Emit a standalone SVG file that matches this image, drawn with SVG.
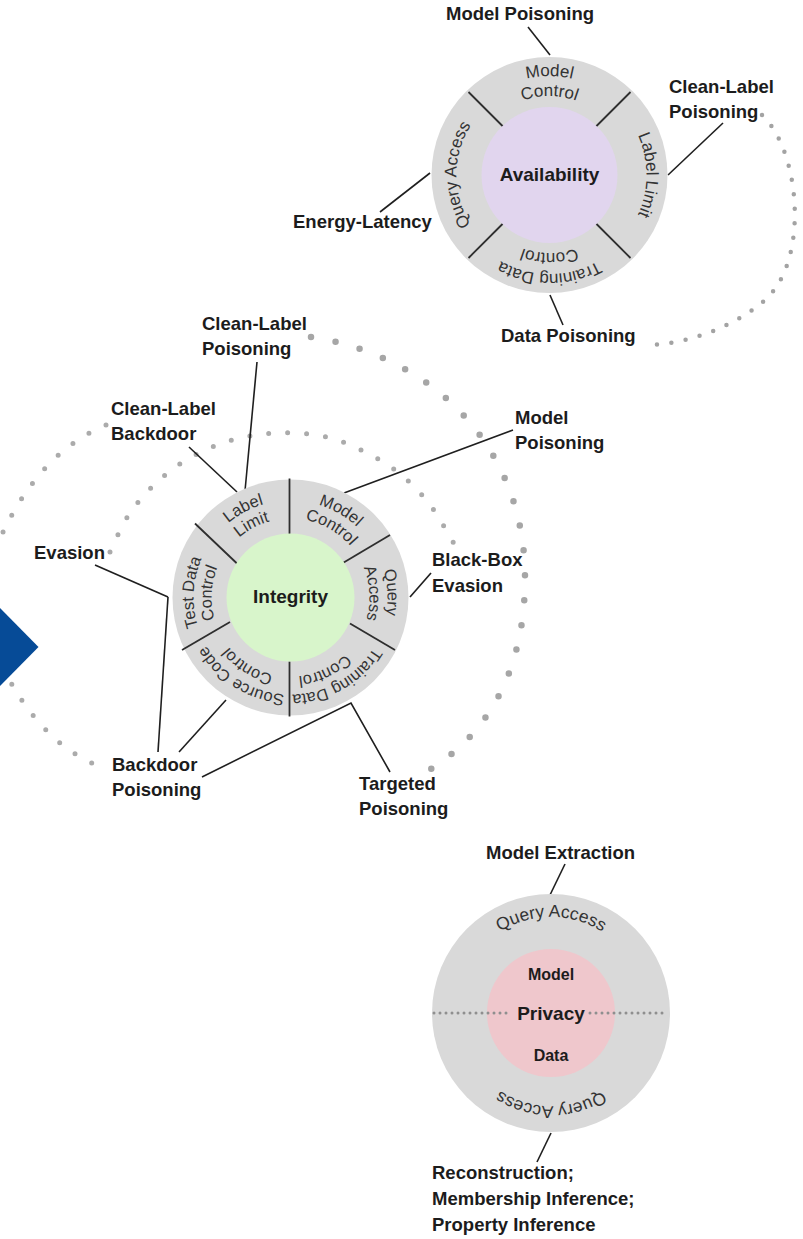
<svg xmlns="http://www.w3.org/2000/svg" xmlns:xlink="http://www.w3.org/1999/xlink" width="803" height="1239" viewBox="0 0 803 1239">
<style>
.lbl{font-family:"Liberation Sans",Arial,sans-serif;font-weight:bold;font-size:18.5px;fill:#1c1c1c}
.ctr{font-family:"Liberation Sans",Arial,sans-serif;font-weight:bold;font-size:19px;fill:#1c1c1c;text-anchor:middle}
.sub{font-size:16px}
.rt{font-family:"Liberation Sans",Arial,sans-serif;font-size:16.5px;fill:#333;text-anchor:middle}
.rtA{font-size:17px}
.rtP{font-size:17.5px}
.ring{fill:#d9d9d9}
.div{stroke:#2e2e2e;stroke-width:1.8;fill:none}
.conn{stroke:#1f1f1f;stroke-width:1.6;fill:none}
.dotL{fill:none;stroke:#a6a6a6;stroke-linecap:round;stroke-width:6.5;stroke-dasharray:0 25}
.dotM{fill:none;stroke:#ababab;stroke-linecap:round;stroke-width:5;stroke-dasharray:0 19}
.dotS{fill:none;stroke:#a3a3a3;stroke-linecap:round;stroke-width:4.5;stroke-dasharray:0 14.5}
.dotP{fill:none;stroke:#8f8f8f;stroke-linecap:round;stroke-width:3;stroke-dasharray:0 6}
</style>
<defs>
<path id="c99" d="M0,99 A99,99 0 1 1 0,-99 A99,99 0 1 1 0,99"/>
<path id="c97" d="M0,97 A97,97 0 1 1 0,-97 A97,97 0 1 1 0,97"/>
<path id="c96" d="M0,96 A96,96 0 1 1 0,-96 A96,96 0 1 1 0,96"/>
<path id="c93" d="M0,93 A93,93 0 1 1 0,-93 A93,93 0 1 1 0,93"/>
<path id="c79" d="M0,79 A79,79 0 1 1 0,-79 A79,79 0 1 1 0,79"/>
<path id="c78" d="M0,78 A78,78 0 1 1 0,-78 A78,78 0 1 1 0,78"/>
</defs>
<rect width="803" height="1239" fill="#ffffff"/>

<g id="dotted-arcs">
<path class="dotS" d="M762,115 C800,150 810,260 765,300 C738,324 690,345 645,345"/>
<path class="dotL" d="M311,337 C430,355 525,445 525,578 C525,680 480,740 426,772"/>
<path class="dotM" d="M106,425 C65,442 25,478 -5,550"/>
<path class="dotM" d="M-5,650 C20,710 60,755 108,769"/>
<path class="dotM" d="M110,552 C113,546 120.8,527 128,516 C135.2,505 143.8,495 153,486 C162.2,477 172.3,468.8 183,462 C193.7,455.2 205,449.5 217,445 C229,440.5 242.3,437 255,435 C267.7,433 280.3,432.5 293,433 C305.7,433.5 318.7,434.7 331,438 C343.3,441.3 355.7,447.2 367,453 C378.3,458.8 389,465 399,473 C409,481 418.8,491 427,501 C435.2,511 442.8,524.5 448,533 C453.2,541.5 456.3,548.8 458,552"/>
</g>

<polygon id="arrow" points="0,608 38.5,647 0,686" fill="#064b97"/>

<g id="connectors">
<line class="conn" x1="528" y1="27" x2="550" y2="55"/>
<line class="conn" x1="723" y1="123" x2="668" y2="175"/>
<line class="conn" x1="380" y1="212" x2="430" y2="173"/>
<line class="conn" x1="550" y1="295" x2="563" y2="325"/>
<line class="conn" x1="257" y1="362" x2="245" y2="491"/>
<line class="conn" x1="189" y1="447" x2="237" y2="492"/>
<line class="conn" x1="513" y1="430" x2="344" y2="493"/>
<line class="conn" x1="95" y1="565" x2="168" y2="597"/>
<line class="conn" x1="158" y1="752" x2="168" y2="597"/>
<line class="conn" x1="431" y1="573" x2="410" y2="597"/>
<line class="conn" x1="179" y1="752" x2="226" y2="700"/>
<polyline class="conn" points="202,777 351,703 390,772"/>
<line class="conn" x1="565" y1="864" x2="550" y2="895"/>
<line class="conn" x1="551" y1="1133" x2="537" y2="1162"/>
</g>

<g id="node-availability">
<circle class="ring" cx="549.5" cy="175" r="118"/>
<line class="div" x1="468.5" y1="92" x2="505" y2="128.5"/>
<line class="div" x1="630.5" y1="92" x2="594" y2="128.5"/>
<line class="div" x1="468.5" y1="258" x2="505" y2="221.5"/>
<line class="div" x1="630.5" y1="258" x2="594" y2="221.5"/>
<circle cx="549.5" cy="175" r="68" fill="#e1d5ee"/>
<text class="ctr" x="549.5" y="181">Availability</text>
<g transform="translate(549.5,175)">
<text class="rt rtA"><textPath href="#c99" xlink:href="#c99" startOffset="50%">Model</textPath></text>
<text class="rt rtA"><textPath href="#c79" xlink:href="#c79" startOffset="50%">Control</textPath></text>
</g>
<g transform="translate(549.5,175) rotate(90)">
<text class="rt rtA"><textPath href="#c97" xlink:href="#c97" startOffset="50%">Label Limit</textPath></text>
</g>
<g transform="translate(549.5,175) rotate(180)">
<text class="rt rtA"><textPath href="#c99" xlink:href="#c99" startOffset="50%">Training Data</textPath></text>
<text class="rt rtA"><textPath href="#c78" xlink:href="#c78" startOffset="50%">Control</textPath></text>
</g>
<g transform="translate(549.5,175) rotate(-90)">
<text class="rt rtA"><textPath href="#c93" xlink:href="#c93" startOffset="50%">Query Access</textPath></text>
</g>
</g>

<g id="node-integrity">
<circle class="ring" cx="290.5" cy="597.5" r="118"/>
<line class="div" x1="289.5" y1="478.5" x2="289.5" y2="534"/>
<line class="div" x1="342" y1="563.5" x2="390" y2="535"/>
<line class="div" x1="350" y1="623.5" x2="395" y2="650"/>
<line class="div" x1="289.5" y1="661.5" x2="289.5" y2="716.5"/>
<line class="div" x1="182" y1="650" x2="230" y2="622"/>
<line class="div" x1="195" y1="523.5" x2="237" y2="563.5"/>
<circle cx="290.5" cy="597.5" r="64" fill="#d8f5cb"/>
<text class="ctr" x="290.5" y="603">Integrity</text>
<g transform="translate(290.5,597.5) rotate(-28)">
<text class="rt"><textPath href="#c97" xlink:href="#c97" startOffset="50%">Label</textPath></text>
<text class="rt"><textPath href="#c79" xlink:href="#c79" startOffset="50%">Limit</textPath></text>
</g>
<g transform="translate(290.5,597.5) rotate(30)">
<text class="rt"><textPath href="#c97" xlink:href="#c97" startOffset="50%">Model</textPath></text>
<text class="rt"><textPath href="#c79" xlink:href="#c79" startOffset="50%">Control</textPath></text>
</g>
<g transform="translate(290.5,597.5) rotate(87)">
<text class="rt"><textPath href="#c97" xlink:href="#c97" startOffset="50%">Query</textPath></text>
<text class="rt"><textPath href="#c79" xlink:href="#c79" startOffset="50%">Access</textPath></text>
</g>
<g transform="translate(290.5,597.5) rotate(150)">
<text class="rt"><textPath href="#c97" xlink:href="#c97" startOffset="50%">Training Data</textPath></text>
</g>
<g transform="translate(290.5,597.5) rotate(155)">
<text class="rt"><textPath href="#c79" xlink:href="#c79" startOffset="50%">Control</textPath></text>
</g>
<g transform="translate(290.5,597.5) rotate(212)">
<text class="rt"><textPath href="#c97" xlink:href="#c97" startOffset="50%">Source Code</textPath></text>
<text class="rt"><textPath href="#c79" xlink:href="#c79" startOffset="50%">Control</textPath></text>
</g>
<g transform="translate(290.5,597.5) rotate(-87)">
<text class="rt"><textPath href="#c97" xlink:href="#c97" startOffset="50%">Test Data</textPath></text>
<text class="rt"><textPath href="#c79" xlink:href="#c79" startOffset="50%">Control</textPath></text>
</g>
</g>

<g id="node-privacy">
<circle class="ring" cx="551" cy="1013" r="119"/>
<circle cx="551" cy="1013" r="64" fill="#efc7cc"/>
<line class="dotP" x1="434" y1="1013" x2="512" y2="1013"/>
<line class="dotP" x1="590" y1="1013" x2="668" y2="1013"/>
<text class="ctr sub" x="551" y="980">Model</text>
<text class="ctr" x="551" y="1020">Privacy</text>
<text class="ctr sub" x="551" y="1061">Data</text>
<g transform="translate(551,1013)">
<text class="rt rtP"><textPath href="#c96" xlink:href="#c96" startOffset="50%">Query Access</textPath></text>
</g>
<g transform="translate(551,1013) rotate(180)">
<text class="rt rtP"><textPath href="#c93" xlink:href="#c93" startOffset="50%">Query Access</textPath></text>
</g>
</g>

<g id="label-avail-model-poisoning"><text class="lbl" x="446" y="20">Model Poisoning</text></g>
<g id="label-avail-clean-label"><text class="lbl" x="669" y="93">Clean-Label</text><text class="lbl" x="669" y="118">Poisoning</text></g>
<g id="label-energy-latency"><text class="lbl" x="293" y="228">Energy-Latency</text></g>
<g id="label-data-poisoning"><text class="lbl" x="501" y="342">Data Poisoning</text></g>
<g id="label-int-clean-label-poisoning"><text class="lbl" x="202" y="330">Clean-Label</text><text class="lbl" x="202" y="355">Poisoning</text></g>
<g id="label-clean-label-backdoor"><text class="lbl" x="111" y="415">Clean-Label</text><text class="lbl" x="111" y="440">Backdoor</text></g>
<g id="label-int-model-poisoning"><text class="lbl" x="515" y="424">Model</text><text class="lbl" x="515" y="449">Poisoning</text></g>
<g id="label-evasion"><text class="lbl" x="34" y="559">Evasion</text></g>
<g id="label-black-box"><text class="lbl" x="432" y="566">Black-Box</text><text class="lbl" x="432" y="592">Evasion</text></g>
<g id="label-backdoor-poisoning"><text class="lbl" x="112" y="771">Backdoor</text><text class="lbl" x="112" y="796">Poisoning</text></g>
<g id="label-targeted-poisoning"><text class="lbl" x="359" y="790">Targeted</text><text class="lbl" x="359" y="815">Poisoning</text></g>
<g id="label-model-extraction"><text class="lbl" x="486" y="859">Model Extraction</text></g>
<g id="label-privacy-attacks"><text class="lbl" x="432" y="1179">Reconstruction;</text><text class="lbl" x="432" y="1205">Membership Inference;</text><text class="lbl" x="432" y="1231">Property Inference</text></g>
</svg>
